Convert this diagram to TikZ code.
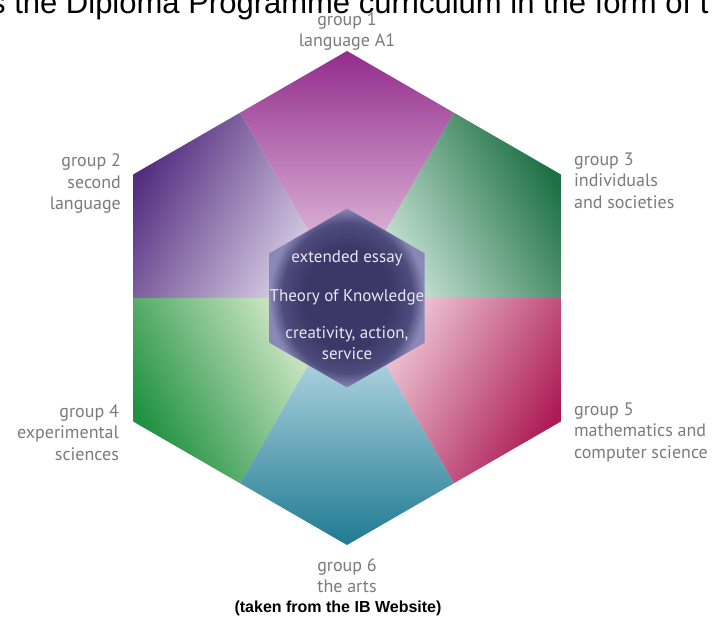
\documentclass[tikz,border=0pt]{standalone}
\usepackage{fontspec}
\setmainfont{PT Sans}
\newfontfamily\arialfont{Liberation Sans}
\usetikzlibrary{calc}

\definecolor{langdark}{HTML}{922C8C}
\definecolor{langpale}{HTML}{F2DCEC}
\definecolor{seconddark}{HTML}{552E80}
\definecolor{secondpale}{HTML}{E6E0F0}
\definecolor{indivdark}{HTML}{1C7043}
\definecolor{indivpale}{HTML}{DDF0E6}
\definecolor{mathsdark}{HTML}{AD1A55}
\definecolor{mathspale}{HTML}{F6DDE5}
\definecolor{artsdark}{HTML}{1F7A92}
\definecolor{artspale}{HTML}{DCEFF6}
\definecolor{experdark}{HTML}{1F9140}
\definecolor{experpale}{HTML}{E9F3D9}
\definecolor{corenavy}{HTML}{3B3868}
\definecolor{coremid}{HTML}{4E4C7D}
\definecolor{coreedge}{HTML}{8A88B6}
\definecolor{labelgrey}{HTML}{7B7B7B}
\definecolor{coretext}{HTML}{E8E6F2}

% dark core, pale rim
\pgfdeclareradialshading{corefade}{\pgfpoint{0bp}{0bp}}{color(0bp)=(corenavy); color(14bp)=(corenavy); color(21bp)=(coremid); color(25bp)=(coreedge); color(50bp)=(coreedge)}

\tikzset{
	grouplabel/.style={text=labelgrey, inner sep=0pt, font=\fontsize{18}{21.5}\selectfont},
	corelabel/.style={text=coretext, inner sep=0pt, align=center, font=\fontsize{17}{21.5}\selectfont},
}

\begin{document}
\begin{tikzpicture}[x=1pt, y=1pt]
	
	% --- Constants ---
	\def\R{247}    % outer hexagon
	\def\r{89.5}   % inner hexagon
	\pgfmathsetmacro{\Rmid}{\R*cos(30)}
	
	\clip (0,0) rectangle (713,620);
	\fill[white] (0,0) rectangle (713,620);
	\coordinate (c) at (347,322);
	
	% outer corners
	\foreach \ang in {30,90,150,210,270,330} {
		\coordinate (v\ang) at ($(c)+(\ang:\R)$);
	}
	
	% =======================================================
	% SIX GROUPS
	% =======================================================
	\foreach \ang/\dark/\pale in {90/langdark/langpale, 150/seconddark/secondpale,
		30/indivdark/indivpale, 210/experdark/experpale,
		330/mathsdark/mathspale, 270/artsdark/artspale} {
		\pgfmathsetmacro{\rot}{\ang-90}
		\shade[shift={(c)}, top color=\dark, bottom color=\pale, shading angle=\rot]
		(0,0) -- (\ang-30:\Rmid) -- (\ang:\R) -- (\ang+30:\Rmid) -- cycle;
	}
	
	% core
	\shade[shift={(c)}, shading=corefade]
	(90:\r) -- (150:\r) -- (210:\r) -- (270:\r) -- (330:\r) -- (30:\r) -- cycle;
	
	\node[corelabel, anchor=base] (essay) at (347,357) {extended essay};
	\node[corelabel, anchor=base] (tok) at (347,318) {Theory of Knowledge};
	\node[corelabel, anchor=base] (cas) at (347,260) {creativity, action,\\service};
	
	% =======================================================
	% LABELS
	% =======================================================
	\node[grouplabel, align=center, anchor=south] (langA) at ($(v90)+(0,0)$) {group 1\\language A1};
	\node[grouplabel, align=right, anchor=north east] (second) at ($(v150)+(-12,21)$) {group 2\\second\\language};
	\node[grouplabel, align=left, anchor=north west] (indiv) at ($(v30)+(13,22)$) {group 3\\individuals\\and societies};
	\node[grouplabel, align=right, anchor=north east] (exper) at ($(v210)+(-14,17)$) {group 4\\experimental\\sciences};
	\node[grouplabel, align=left, anchor=north west] (maths) at ($(v330)+(13,19)$) {group 5\\mathematics and\\computer science};
	\node[grouplabel, align=center, anchor=north] (arts) at ($(v270)+(0,-13)$) {group 6\\the arts};
	
	\node[font=\arialfont\fontsize{31}{36}\selectfont, anchor=base west, inner sep=0pt] (heading) at (-10,606) {s the Diploma Programme curriculum in the form of t};
	\node[font=\arialfont\bfseries\fontsize{16}{19}\selectfont, anchor=base, inner sep=0pt] (source) at (338,7) {(taken from the IB Website)};
	
\end{tikzpicture}
\end{document}
